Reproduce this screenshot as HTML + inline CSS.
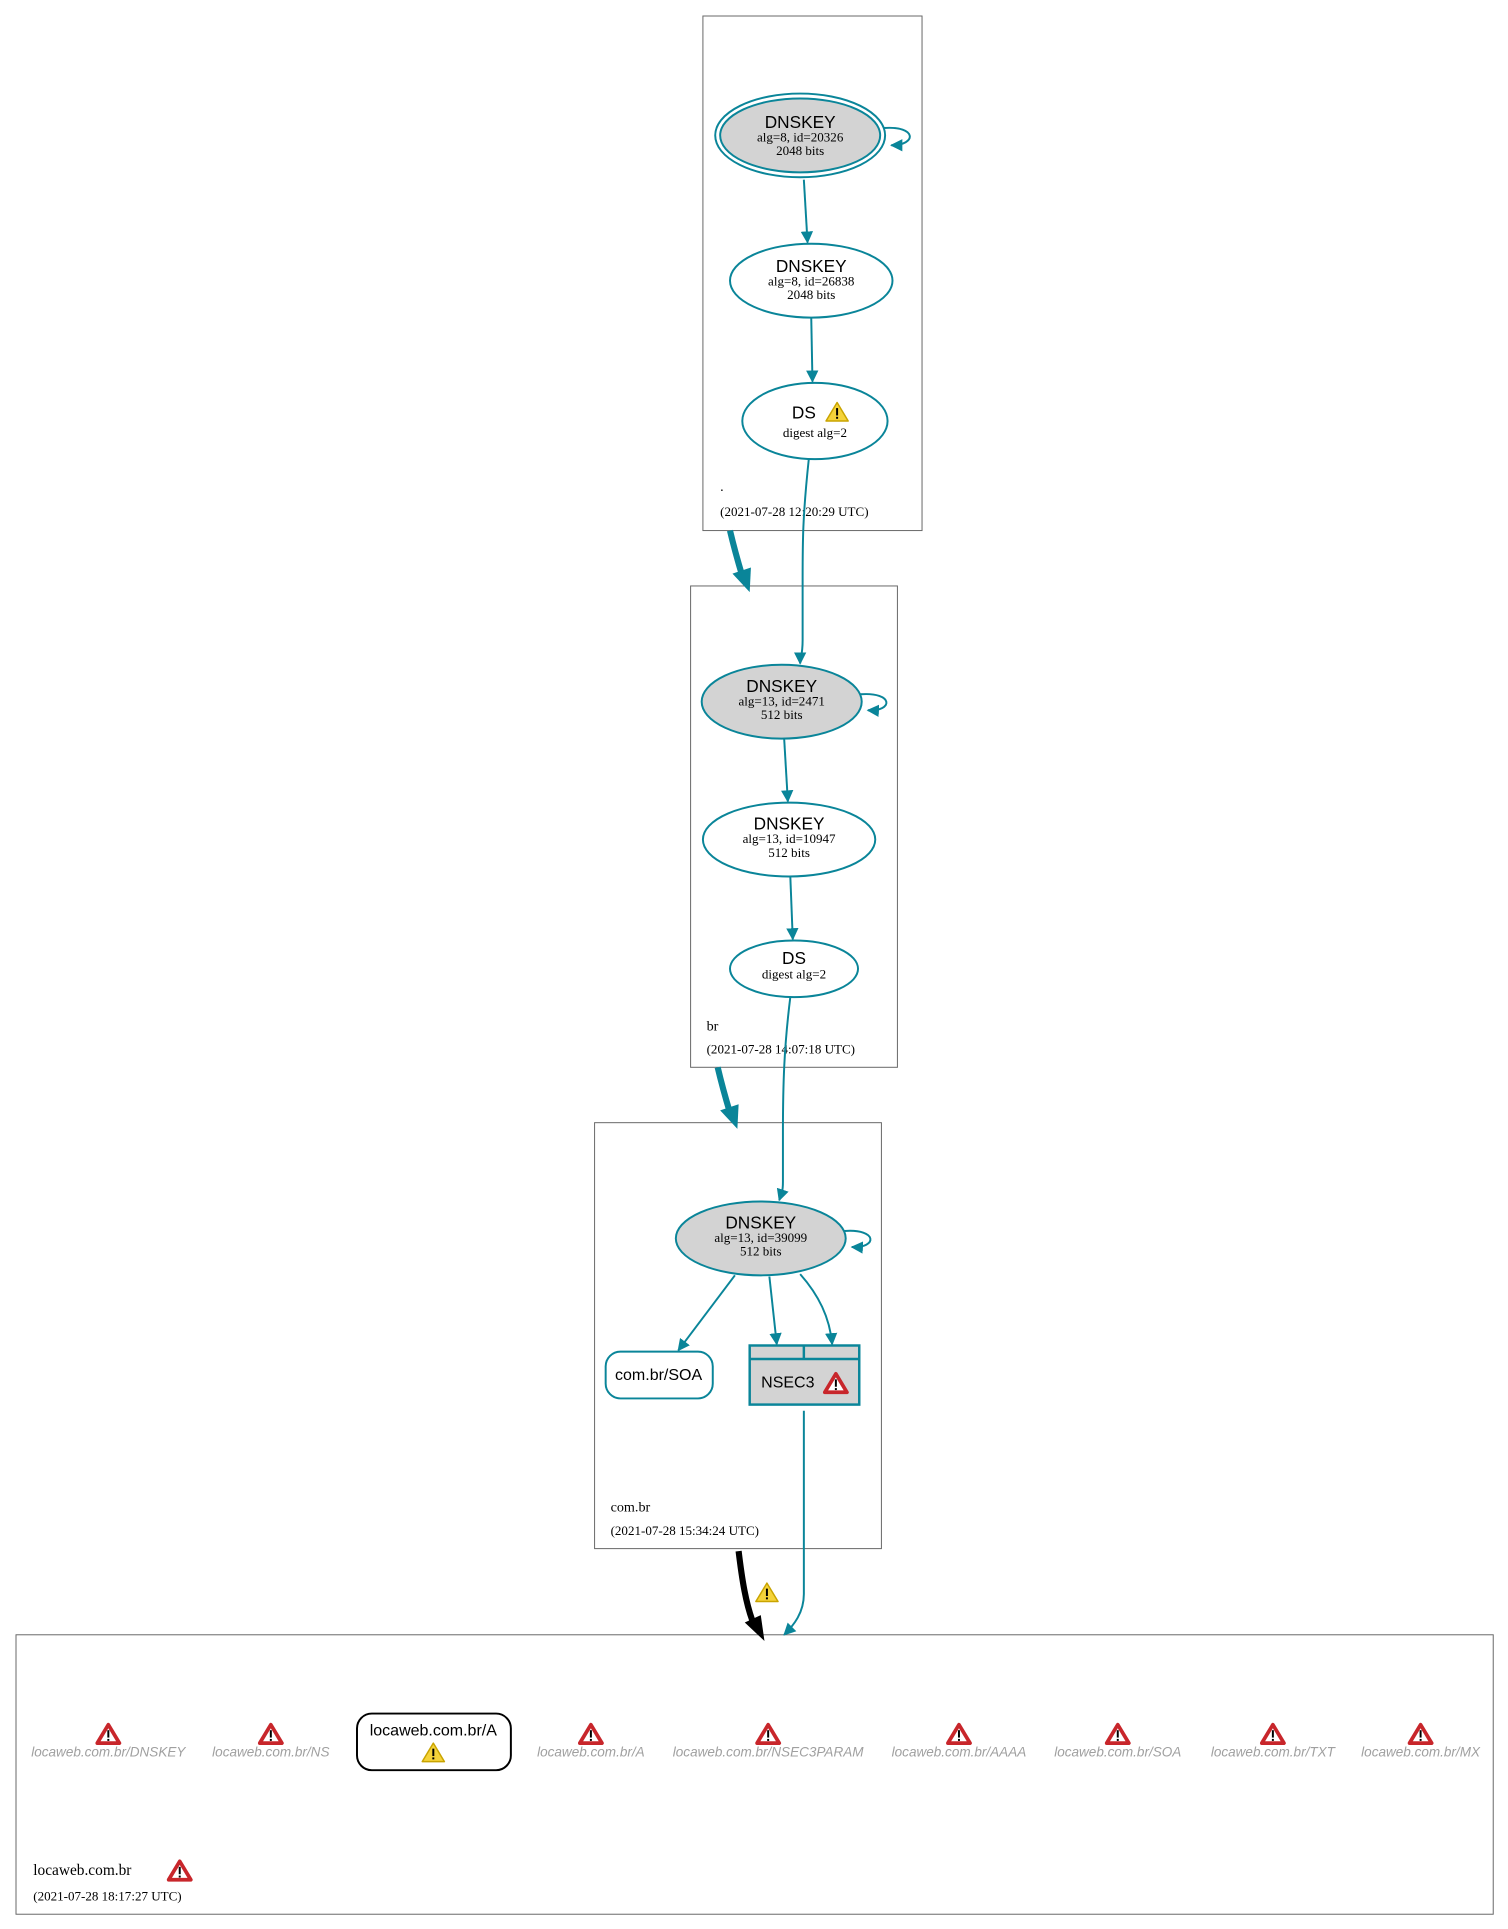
<!DOCTYPE html>
<html><head><meta charset="utf-8"><style>html,body{margin:0;padding:0;background:#fff}svg{display:block}</style></head>
<body>
<svg width="1508" height="1929" viewBox="0 0 1225 1567" preserveAspectRatio="none" xmlns="http://www.w3.org/2000/svg">
<defs>
<g id="warn"><polygon points="0,15 9,0 18,15" fill="#f5d33a" stroke="#c9a400" stroke-width="1.2" stroke-linejoin="round"/><rect x="8.2" y="4.5" width="1.6" height="6" fill="#000"/><rect x="8.2" y="11.6" width="1.6" height="1.6" fill="#000"/></g>
<g id="err"><polygon points="0,15 9,0 18,15" fill="#fff" stroke="#c8262b" stroke-width="3" stroke-linejoin="round"/><rect x="8.2" y="4.5" width="1.6" height="6" fill="#000"/><rect x="8.2" y="11.6" width="1.6" height="1.6" fill="#000"/></g>
<marker id="ah" markerWidth="10" markerHeight="10" refX="9" refY="5" orient="auto" markerUnits="userSpaceOnUse"><path d="M0,0 L10,5 L0,10 z" fill="#0a8599"/></marker>
</defs>
<g font-family="Liberation Serif, serif" fill="#000">
<rect x="571" y="13" width="178" height="418" fill="none" stroke="#666" stroke-width="0.8"/>
<rect x="561" y="476" width="168" height="391" fill="none" stroke="#666" stroke-width="0.8"/>
<rect x="483" y="912" width="233" height="346" fill="none" stroke="#666" stroke-width="0.8"/>
<rect x="13" y="1328" width="1200" height="227" fill="none" stroke="#666" stroke-width="0.8"/>
<text x="585" y="399" font-size="11.5">.</text>
<text x="585" y="419" font-size="10.6">(2021-07-28 12:20:29 UTC)</text>
<text x="574" y="837" font-size="11.5">br</text>
<text x="574" y="856" font-size="10.6">(2021-07-28 14:07:18 UTC)</text>
<text x="496" y="1228" font-size="11.5">com.br</text>
<text x="496" y="1247" font-size="10.6">(2021-07-28 15:34:24 UTC)</text>
<text x="27" y="1523" font-size="12.5">locaweb.com.br</text>
<use href="#err" x="137" y="1512"/>
<text x="27" y="1544" font-size="10.6">(2021-07-28 18:17:27 UTC)</text>
</g>
<g fill="none" stroke="#0a8599" stroke-width="1.6">
<ellipse cx="650" cy="110" rx="69" ry="34" fill="none"/>
<ellipse cx="650" cy="110" rx="65" ry="30" fill="#d3d3d3"/>
<path d="M718,104 C745,102 745,118 724,118" marker-end="url(#ah)"/>
<ellipse cx="659" cy="228" rx="66" ry="30" fill="#fff"/>
<ellipse cx="662" cy="342" rx="59" ry="31" fill="#fff"/>
<path d="M653,146 L656,197" marker-end="url(#ah)"/>
<path d="M659,258 L660,310" marker-end="url(#ah)"/>
<path d="M657,373 C652,420 652,440 652,470 L652,520 C652,532 650,535 650,539" marker-end="url(#ah)"/>
<ellipse cx="635" cy="570" rx="65" ry="30" fill="#d3d3d3"/>
<path d="M699,564 C726,562 726,578 705,577" marker-end="url(#ah)"/>
<ellipse cx="641" cy="682" rx="70" ry="30" fill="#fff"/>
<ellipse cx="645" cy="787" rx="52" ry="23" fill="#fff"/>
<path d="M637,600 L640,651" marker-end="url(#ah)"/>
<path d="M642,712 L644,763" marker-end="url(#ah)"/>
<path d="M642,810 C637,850 636,880 636,920 L636,960 C636,970 634,972 633,975" marker-end="url(#ah)"/>
<ellipse cx="618" cy="1006" rx="69" ry="30" fill="#d3d3d3"/>
<path d="M686,1000 C713,998 713,1014 692,1013" marker-end="url(#ah)"/>
<rect x="492" y="1098" width="87" height="38" rx="12" fill="#fff"/>
<path d="M597,1036 L551,1097" marker-end="url(#ah)"/>
<path d="M625,1037 L631,1092" marker-end="url(#ah)"/>
<path d="M650,1035 C665,1052 674,1070 676,1092" marker-end="url(#ah)"/>
<rect x="609" y="1093" width="89" height="48" fill="#d3d3d3" stroke-width="2"/>
<line x1="609" y1="1104" x2="698" y2="1104" stroke-width="2"/>
<line x1="653" y1="1093" x2="653" y2="1104" stroke-width="2"/>
<path d="M653,1146 L653,1295 C653,1310 645,1320 637,1328" marker-end="url(#ah)"/>
</g>
<path d="M593,431 C597,448 600,458 603,468" stroke="#0a8599" stroke-width="5" fill="none"/>
<polygon points="595,466 610,461 609,481" fill="#0a8599"/>
<path d="M583,867 C587,884 590,894 593,904" stroke="#0a8599" stroke-width="5" fill="none"/>
<polygon points="585,902 600,897 599,917" fill="#0a8599"/>
<path d="M600,1260 C603,1285 606,1302 611,1316" stroke="#000" stroke-width="5" fill="none"/>
<polygon points="605,1318 618,1312 621,1333" fill="#000"/>
<use href="#warn" x="614" y="1286"/>
<g font-family="Liberation Sans, sans-serif" font-size="14" text-anchor="middle" fill="#000">
<text x="650" y="104">DNSKEY</text>
<text x="659" y="221">DNSKEY</text>
<text x="653" y="340">DS</text>
<text x="635" y="562">DNSKEY</text>
<text x="641" y="674">DNSKEY</text>
<text x="645" y="783">DS</text>
<text x="618" y="998">DNSKEY</text>
<text x="535" y="1121" font-size="13">com.br/SOA</text>
<text x="640" y="1127" font-size="13">NSEC3</text>
</g>
<use href="#warn" x="671" y="327"/>
<use href="#err" x="670" y="1116"/>
<g font-family="Liberation Serif, serif" font-size="10.6" text-anchor="middle" fill="#000">
<text x="650" y="115">alg=8, id=20326</text>
<text x="650" y="126">2048 bits</text>
<text x="659" y="232">alg=8, id=26838</text>
<text x="659" y="243">2048 bits</text>
<text x="662" y="355">digest alg=2</text>
<text x="635" y="573">alg=13, id=2471</text>
<text x="635" y="584">512 bits</text>
<text x="641" y="685">alg=13, id=10947</text>
<text x="641" y="696">512 bits</text>
<text x="645" y="795">digest alg=2</text>
<text x="618" y="1009">alg=13, id=39099</text>
<text x="618" y="1020">512 bits</text>
</g>
<rect x="290" y="1392" width="125" height="46" rx="12" fill="#fff" stroke="#000" stroke-width="1.6"/>
<text x="352" y="1410" font-family="Liberation Sans, sans-serif" font-size="13" text-anchor="middle">locaweb.com.br/A</text>
<use href="#warn" x="343" y="1416"/>
<g font-family="Liberation Sans, sans-serif" font-size="11" font-style="italic" fill="#a0a0a0" text-anchor="middle">
<text x="88" y="1427">locaweb.com.br/DNSKEY</text>
<text x="220" y="1427">locaweb.com.br/NS</text>
<text x="480" y="1427">locaweb.com.br/A</text>
<text x="624" y="1427">locaweb.com.br/NSEC3PARAM</text>
<text x="779" y="1427">locaweb.com.br/AAAA</text>
<text x="908" y="1427">locaweb.com.br/SOA</text>
<text x="1034" y="1427">locaweb.com.br/TXT</text>
<text x="1154" y="1427">locaweb.com.br/MX</text>
</g>
<use href="#err" x="79" y="1401"/>
<use href="#err" x="211" y="1401"/>
<use href="#err" x="471" y="1401"/>
<use href="#err" x="615" y="1401"/>
<use href="#err" x="770" y="1401"/>
<use href="#err" x="899" y="1401"/>
<use href="#err" x="1025" y="1401"/>
<use href="#err" x="1145" y="1401"/>
</svg>
</body></html>
